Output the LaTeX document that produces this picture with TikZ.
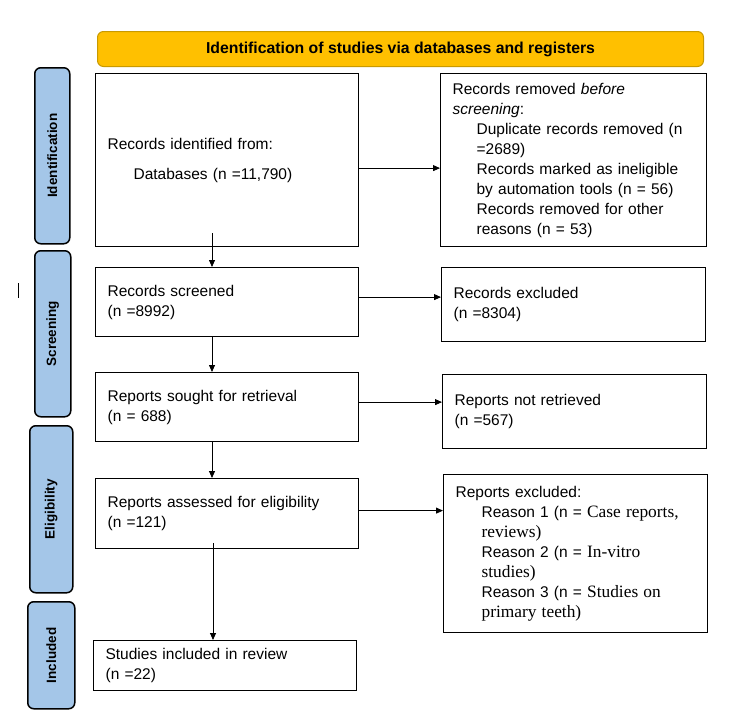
\documentclass[tikz,border=0pt]{standalone}
\usepackage{fontspec}
\setmainfont{Liberation Sans}
\newfontfamily\serif{Liberation Serif}[Scale=1.12]
\usetikzlibrary{arrows.meta, positioning}

\definecolor{hdrfill}{HTML}{FFC000}
\definecolor{hdrline}{HTML}{C99A00}
\definecolor{sidefill}{HTML}{A4C6E8}

\begin{document}
\begin{tikzpicture}[
            x = 1pt, y = -1pt,
            > = {Triangle[length=7pt, width=6pt]}, % arrow head style
            font = \fontsize{15.5}{20}\selectfont,
            box/.style = {draw = black, line width = 1.2pt, anchor = north west,
                inner xsep = 12pt, align = left},
            side/.style = {draw = black, line width = 1.5pt, fill = sidefill,
                rounded corners = 6pt, anchor = north west},
            sidetext/.style = {rotate = 90, font = \fontsize{13.5}{15}\selectfont\bfseries},
            flow/.style = {->, line width = 0.8pt}
        ]

    \useasboundingbox (0,0) rectangle (750,721);

    % header
    \node[draw = hdrline, fill = hdrfill, line width = 1pt, rounded corners = 6pt,
        minimum width = 606pt, minimum height = 35pt, anchor = north west,
        font = \fontsize{15.8}{17}\selectfont\bfseries] (head) at (97,31)
        {Identification of studies via databases and registers};

    % phase labels
    \node[side, minimum width = 35pt, minimum height = 176pt] (ident) at (34,67) {};
    \node[sidetext] at (ident.center) {Identification};
    \node[side, minimum width = 36pt, minimum height = 166pt] (screen) at (34,250) {};
    \node[sidetext] at (screen.center) {Screening};
    \node[side, minimum width = 43pt, minimum height = 167pt] (elig) at (29,425) {};
    \node[sidetext] at (elig.center) {Eligibility};
    \node[side, minimum width = 47pt, minimum height = 107pt] (incl) at (27,601) {};
    \node[sidetext] at (incl.center) {Included};

    % left column
    \node[box, minimum width = 263pt, minimum height = 173pt, text width = 239pt] (found) at (95,73)
        {Records identified from:\\[10pt]\hspace{26pt}Databases (n =11,790)\\[18pt]};
    \node[box, minimum width = 263pt, minimum height = 69pt, text width = 239pt] (screened) at (95,267)
        {Records screened\\(n =8992)};
    \node[box, minimum width = 263pt, minimum height = 69pt, text width = 239pt] (sought) at (95,372)
        {Reports sought for retrieval\\(n = 688)};
    \node[box, minimum width = 263pt, minimum height = 70pt, text width = 239pt] (assessed) at (95,478)
        {Reports assessed for eligibility\\(n =121)};
    \node[box, minimum width = 263pt, minimum height = 50pt, text width = 239pt] (included) at (93,640)
        {Studies included in review\\(n =22)};

    % right column
    \node[box, minimum width = 266pt, minimum height = 173pt, text width = 242pt] (removed) at (440,73)
        {Records removed \textit{before}\\\textit{screening}:\\
        \hspace{24pt}Duplicate records removed (n\\\hspace{24pt}=2689)\\
        \hspace{24pt}Records marked as ineligible\\\hspace{24pt}by automation tools (n = 56)\\
        \hspace{24pt}Records removed for other\\\hspace{24pt}reasons (n = 53)};
    \node[box, minimum width = 264pt, minimum height = 74pt, text width = 240pt] (excluded) at (441,267)
        {Records excluded\\(n =8304)};
    \node[box, minimum width = 264pt, minimum height = 74pt, text width = 240pt] (notret) at (442,374)
        {Reports not retrieved\\(n =567)};
    \node[box, minimum width = 264pt, minimum height = 158pt, text width = 240pt] (repexcl) at (443,474)
        {Reports excluded:\\
        \hspace{26pt}Reason 1 (n = {\serif Case reports,}\\\hspace{26pt}{\serif reviews)}\\
        \hspace{26pt}Reason 2 (n = {\serif In-vitro}\\\hspace{26pt}{\serif studies)}\\
        \hspace{26pt}Reason 3 (n = {\serif Studies on}\\\hspace{26pt}{\serif primary teeth)}};

    % down arrows
    \coordinate (d1) at (212,233);
    \coordinate (d2) at (212,336);
    \coordinate (d3) at (212,441);
    \coordinate (d4) at (213,543);
    \draw[flow] (d1) -- (d1 |- screened.north);
    \draw[flow] (d2) -- (d2 |- sought.north);
    \draw[flow] (d3) -- (d3 |- assessed.north);
    \draw[flow] (d4) -- (d4 |- included.north);

    % side arrows
    \draw[flow] ([yshift=-8pt]found.east) -- ([yshift=-8pt]found.east -| removed.west);
    \draw[flow] ([yshift=5pt]screened.east) -- ([yshift=5pt]screened.east -| excluded.west);
    \draw[flow] ([yshift=5pt]sought.east) -- ([yshift=5pt]sought.east -| notret.west);
    \draw[flow] ([yshift=3pt]assessed.east) -- ([yshift=3pt]assessed.east -| repexcl.west);

    % stray mark
    \draw[line width = 0.8pt] (18,283) -- (18,298);

\end{tikzpicture}
\end{document}
